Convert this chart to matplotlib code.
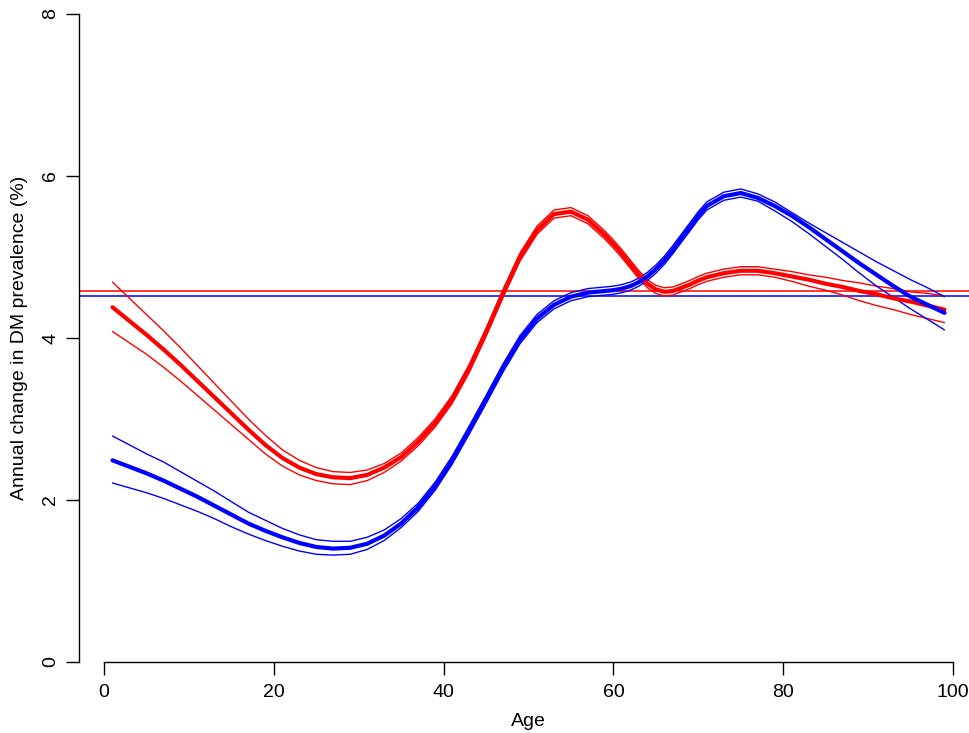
import matplotlib
matplotlib.use("Agg")
import matplotlib.pyplot as plt

# ---- data ----
age = [1, 3, 5, 7, 9, 11, 13, 15, 17, 19, 21, 23, 25, 27, 29, 31, 33, 35, 37, 39,
       41, 43, 45, 47, 49, 51, 53, 55, 57, 59,
       60, 61, 62, 63, 64, 65, 66, 67, 68, 69, 70,
       71, 73, 75, 77, 79, 81, 83, 85, 87, 89, 91, 93, 95, 97, 99]

red_fit = [4.38, 4.21, 4.04, 3.86, 3.67, 3.47, 3.27, 3.07, 2.87, 2.68,
           2.52, 2.40, 2.32, 2.28, 2.27, 2.31, 2.40, 2.53, 2.72, 2.95,
           3.24, 3.62, 4.07, 4.55, 5.00, 5.33, 5.53, 5.56, 5.46, 5.27,
           5.16, 5.04, 4.91, 4.78, 4.67, 4.60, 4.57, 4.58, 4.62, 4.66, 4.71,
           4.75, 4.80, 4.83, 4.83, 4.80, 4.76, 4.72, 4.67, 4.63, 4.58, 4.54, 4.49, 4.45, 4.40, 4.35]
red_upper = [4.69, 4.49, 4.29, 4.09, 3.88, 3.66, 3.44, 3.22, 3.00, 2.80,
             2.62, 2.49, 2.40, 2.35, 2.34, 2.37, 2.45, 2.58, 2.77, 3.00,
             3.29, 3.67, 4.12, 4.60, 5.05, 5.38, 5.58, 5.61, 5.51, 5.32,
             5.21, 5.09, 4.96, 4.83, 4.72, 4.65, 4.62, 4.63, 4.67, 4.71, 4.76,
             4.80, 4.85, 4.88, 4.88, 4.85, 4.82, 4.78, 4.75, 4.71, 4.68, 4.64, 4.61, 4.57, 4.55, 4.52]
red_lower = [4.08, 3.94, 3.80, 3.64, 3.47, 3.29, 3.11, 2.93, 2.75, 2.57,
             2.42, 2.31, 2.24, 2.20, 2.19, 2.24, 2.34, 2.48, 2.67, 2.90,
             3.19, 3.57, 4.02, 4.50, 4.95, 5.28, 5.48, 5.51, 5.41, 5.22,
             5.11, 4.99, 4.86, 4.73, 4.62, 4.55, 4.52, 4.53, 4.57, 4.61, 4.66,
             4.70, 4.75, 4.78, 4.78, 4.75, 4.70, 4.64, 4.59, 4.53, 4.46, 4.40, 4.35, 4.29, 4.24, 4.19]

blue_fit = [2.49, 2.41, 2.33, 2.24, 2.14, 2.04, 1.93, 1.82, 1.71, 1.62,
            1.54, 1.47, 1.42, 1.40, 1.41, 1.46, 1.56, 1.71, 1.91, 2.17,
            2.49, 2.86, 3.24, 3.63, 3.98, 4.24, 4.41, 4.51, 4.56, 4.58,
            4.59, 4.61, 4.64, 4.69, 4.76, 4.85, 4.96, 5.09, 5.23, 5.37, 5.51,
            5.63, 5.75, 5.79, 5.73, 5.63, 5.51, 5.37, 5.22, 5.07, 4.92, 4.78, 4.64, 4.51, 4.41, 4.31]
blue_upper = [2.79, 2.68, 2.57, 2.47, 2.35, 2.23, 2.11, 1.98, 1.85, 1.75,
              1.65, 1.57, 1.51, 1.49, 1.49, 1.54, 1.63, 1.77, 1.96, 2.22,
              2.54, 2.91, 3.29, 3.68, 4.03, 4.29, 4.46, 4.56, 4.61, 4.63,
              4.64, 4.66, 4.69, 4.74, 4.81, 4.90, 5.01, 5.14, 5.28, 5.42, 5.56,
              5.68, 5.80, 5.84, 5.78, 5.68, 5.55, 5.42, 5.30, 5.18, 5.06, 4.94, 4.83, 4.72, 4.62, 4.51]
blue_lower = [2.21, 2.15, 2.09, 2.02, 1.94, 1.86, 1.77, 1.67, 1.58, 1.50,
              1.43, 1.37, 1.33, 1.32, 1.33, 1.39, 1.50, 1.66, 1.86, 2.12,
              2.44, 2.81, 3.19, 3.58, 3.93, 4.19, 4.36, 4.46, 4.51, 4.53,
              4.54, 4.56, 4.59, 4.64, 4.71, 4.80, 4.91, 5.04, 5.18, 5.32, 5.46,
              5.58, 5.70, 5.74, 5.69, 5.57, 5.44, 5.29, 5.13, 4.97, 4.80, 4.64, 4.50, 4.36, 4.23, 4.10]

red_mean = 4.577
blue_mean = 4.519

x_ticks = [0, 20, 40, 60, 80, 100]
y_ticks = [0, 2, 4, 6, 8]
x_label = "Age"
y_label = "Annual change in DM prevalence (%)"

RED = "#FF0000"
BLUE = "#0000FF"

plt.rcParams['font.family'] = ['Liberation Sans', 'DejaVu Sans']

W, H = 969, 733
fig = plt.figure(figsize=(W / 100, H / 100), dpi=100)

# axes: x data 0 -> px 104, 100 -> px 953 ; y data 0 -> px 662, 8 -> px 14
xl, xr = -2.92, 102.92
px_per_x = (953 - 104) / 100.0
left_px = 104 + xl * px_per_x
right_px = 104 + xr * px_per_x
bot_px, top_px = 662, 14
ax = fig.add_axes([left_px / W, (H - bot_px) / H, (right_px - left_px) / W, (bot_px - top_px) / H])
ax.set_xlim(xl, xr)
ax.set_ylim(0, 8)

ax.axhline(red_mean, color=RED, lw=1.1, zorder=2)
ax.axhline(blue_mean, color=BLUE, lw=1.1, zorder=2)

for fit, up, lo, col in [(red_fit, red_upper, red_lower, RED),
                         (blue_fit, blue_upper, blue_lower, BLUE)]:
    ax.plot(age, up, color=col, lw=1.0, solid_capstyle='round', solid_joinstyle='round', zorder=3)
    ax.plot(age, lo, color=col, lw=1.0, solid_capstyle='round', solid_joinstyle='round', zorder=3)
    ax.plot(age, fit, color=col, lw=3.0, solid_capstyle='round', solid_joinstyle='round', zorder=4)

for s in ['top', 'right']:
    ax.spines[s].set_visible(False)
ax.spines['left'].set_bounds(0, 8)
ax.spines['bottom'].set_bounds(0, 100)
for s in ['left', 'bottom']:
    ax.spines[s].set_linewidth(1.0)
    ax.spines[s].set_color('black')

ax.set_xticks(x_ticks)
ax.set_yticks(y_ticks)
ax.set_xticklabels([str(t) for t in x_ticks])
ax.set_yticklabels([str(t) for t in y_ticks], rotation=90, va='center')
ax.tick_params(axis='both', direction='out', length=9.5, width=1.0, labelsize=14, colors='black')
ax.tick_params(axis='x', pad=6)
ax.tick_params(axis='y', pad=5)

fig.text(528 / W, 1 - 721 / H, x_label, ha='center', va='center', fontsize=14)
fig.text(20 / W, 1 - 338 / H, y_label, ha='center', va='center', rotation=90, fontsize=14)

fig.savefig("out.png", dpi=100)
